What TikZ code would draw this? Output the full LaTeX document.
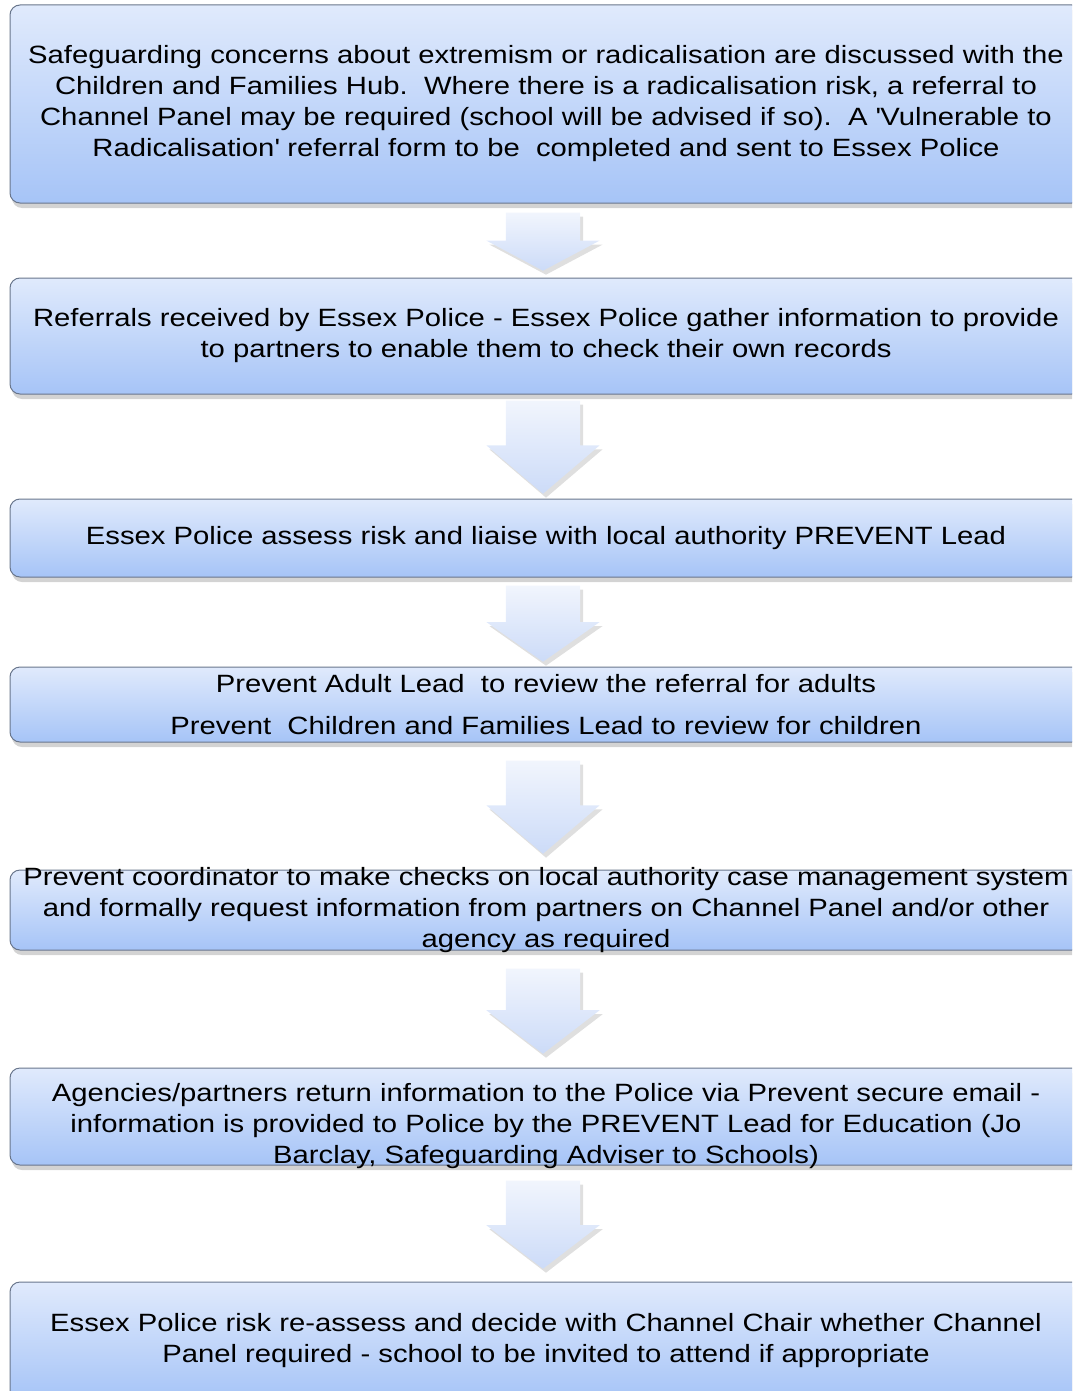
\documentclass[tikz,border=0pt]{standalone}
\usepackage{fontspec}
\setmainfont[FakeStretch=1.17]{Liberation Sans}
\usetikzlibrary{shapes.arrows,shadows}

\definecolor{boxtop}{RGB}{224,234,252}
\definecolor{boxbot}{RGB}{166,196,247}
\definecolor{boxline}{RGB}{105,118,140}
\definecolor{arrtop}{RGB}{241,245,253}
\definecolor{arrbot}{RGB}{204,219,248}

\tikzset{
  stagebox/.style={rectangle, rounded corners=10pt, draw=boxline, line width=1pt,
    top color=boxtop, bottom color=boxbot, minimum width=1072pt, inner xsep=0pt, inner ysep=0pt,
    align=center, font=\fontsize{25}{31}\selectfont,
    drop shadow={shadow xshift=2pt, shadow yshift=-5pt, opacity=0.35}},
  flowarrow/.style={single arrow, shape border rotate=270, draw=none, anchor=tail,
    top color=arrtop, bottom color=arrbot, text width=74pt, single arrow head extend=19.5pt,
    inner sep=0pt, drop shadow={shadow xshift=3pt, shadow yshift=-4pt, opacity=0.25}}
}

\begin{document}
\begin{tikzpicture}[x=1pt,y=-1pt]
\useasboundingbox (0,0) rectangle (1072,1391);
\clip (0,0) rectangle (1072,1391);

\node[stagebox, minimum height=198pt] (b1) at (546,104) {Safeguarding concerns about extremism or radicalisation are discussed with the\\Children and Families Hub.\ \ Where there is a radicalisation risk, a referral to\\Channel Panel may be required (school will be advised if so).\ \ A \textquotesingle Vulnerable to\\Radicalisation\textquotesingle\ referral form to be\ \ completed and sent to Essex Police};
\node[stagebox, minimum height=116pt] (b2) at (546,336) {Referrals received by Essex Police - Essex Police gather information to provide\\to partners to enable them to check their own records};
\node[stagebox, minimum height=78pt] (b3) at (546,538) {Essex Police assess risk and liaise with local authority PREVENT Lead};
\node[stagebox, minimum height=75pt] (b4) at (546,704.5) {Prevent Adult Lead\ \ to review the referral for adults\\[11pt]Prevent\ \ Children and Families Lead to review for children};
\node[stagebox, minimum height=80pt, inner ysep=-4pt] (b5) at (546,910) {Prevent coordinator to make checks on local authority case management system\\and formally request information from partners on Channel Panel and/or other\\agency as required};
\node[stagebox, minimum height=97pt, inner ysep=-5pt] (b6) at (546,1116.5) {\rule{0pt}{38pt}Agencies/partners return information to the Police via Prevent secure email -\\information is provided to Police by the PREVENT Lead for Education (Jo\\Barclay, Safeguarding Adviser to Schools)};
\node[stagebox, minimum height=118pt] (b7) at (546,1341) {Essex Police risk re-assess and decide with Channel Chair whether Channel\\Panel required - school to be invited to attend if appropriate};

% arrows between the stages
\node[flowarrow, minimum height=58pt, single arrow tip angle=124] (a1) at ([xshift=-3pt,yshift=-9pt]b1.south) {};
\node[flowarrow, minimum height=93pt, single arrow tip angle=99] (a2) at ([xshift=-3pt,yshift=-6pt]b2.south) {};
\node[flowarrow, minimum height=76pt, single arrow tip angle=110] (a3) at ([xshift=-3pt,yshift=-8pt]b3.south) {};
\node[flowarrow, minimum height=93pt, single arrow tip angle=99] (a4) at ([xshift=-3pt,yshift=-18pt]b4.south) {};
\node[flowarrow, minimum height=85pt, single arrow tip angle=105] (a5) at ([xshift=-3pt,yshift=-18pt]b5.south) {};
\node[flowarrow, minimum height=88pt, single arrow tip angle=105] (a6) at ([xshift=-3pt,yshift=-15pt]b6.south) {};
\end{tikzpicture}
\end{document}
